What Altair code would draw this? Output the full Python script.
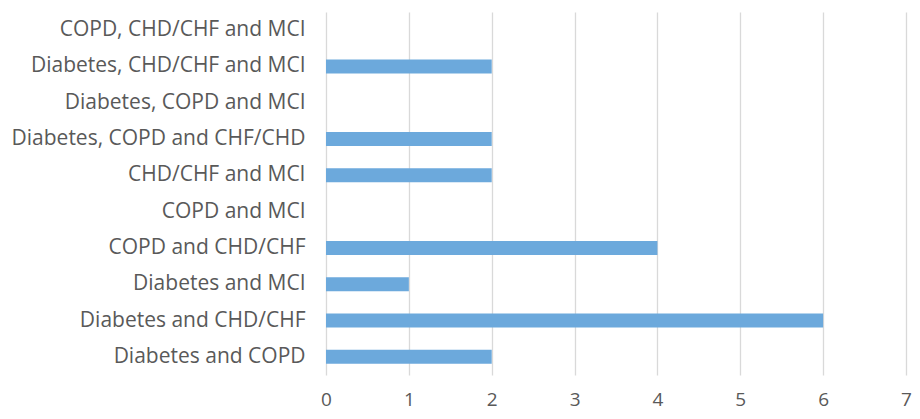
import altair as alt
import pandas as pd

categories = [
    "COPD, CHD/CHF and MCI",
    "Diabetes, CHD/CHF and MCI",
    "Diabetes, COPD and MCI",
    "Diabetes, COPD and CHF/CHD",
    "CHD/CHF and MCI",
    "COPD and MCI",
    "COPD and CHD/CHF",
    "Diabetes and MCI",
    "Diabetes and CHD/CHF",
    "Diabetes and COPD",
]
values = [0, 2, 0, 2, 2, 0, 4, 1, 6, 2]
x_ticks = [0, 1, 2, 3, 4, 5, 6, 7]

df = pd.DataFrame({"category": categories, "value": values})

FONT = "Open Sans"
TXT = "#595959"

chart = alt.Chart(df).mark_bar(size=14, color="#6CA9DC").encode(
    x=alt.X(
        "value:Q",
        scale=alt.Scale(domain=[0, 7], nice=False),
        axis=alt.Axis(
            values=x_ticks, title=None, grid=True, gridColor="#D9D9D9", gridWidth=1.3,
            domain=False, ticks=False, labelPadding=15, labelFontSize=19,
            labelColor=TXT, labelFont=FONT, format="d", labelFlush=False,
        ),
    ),
    y=alt.Y(
        "category:N",
        sort=categories,
        scale=alt.Scale(paddingInner=0, paddingOuter=0),
        axis=alt.Axis(
            title=None, domain=False, ticks=False, grid=False, labelPadding=21,
            labelFontSize=21, labelColor=TXT, labelFont=FONT, labelLimit=400,
        ),
    ),
).properties(
    width=580,
    height=363,
    autosize=alt.AutoSizeParams(type="none"),
    padding={"left": 318, "top": 4, "right": 6, "bottom": 36},
).configure_view(stroke=None)

chart.save("out.html", embed_options={"renderer": "svg", "actions": False})
